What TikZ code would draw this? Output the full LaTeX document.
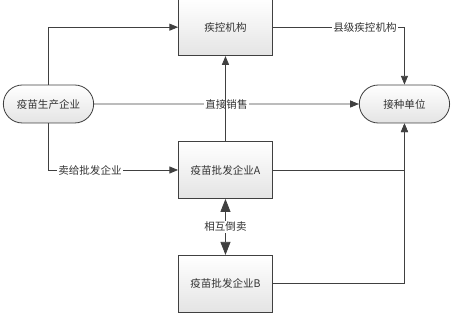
\documentclass[tikz,border=0pt]{standalone}
\usepackage{fontspec}
\setmainfont{Noto Sans CJK SC}
\usetikzlibrary{positioning,arrows.meta,shapes.misc}
\definecolor{ink}{HTML}{333333}
\definecolor{frame}{HTML}{404040}
\definecolor{shadetop}{HTML}{FFFFFF}
\definecolor{shadebot}{HTML}{E4E4E4}

\begin{document}
\begin{tikzpicture}[
  font=\fontsize{9}{11}\selectfont,
  box/.style={draw=frame, line width=0.7pt, top color=shadetop, bottom color=shadebot, text=ink, align=center, minimum width=28.2mm, minimum height=17.1mm, inner sep=2pt},
  pill/.style={box, rounded rectangle, minimum width=28.5mm, minimum height=11.4mm},
  lbl/.style={fill=white, text=ink, inner sep=1pt},
  arr/.style={-{Triangle[length=2.6mm, width=2.1mm]}, line width=0.7pt, draw=frame},
  darr/.style={{Triangle[length=3.9mm, width=3mm]}-{Triangle[length=3.9mm, width=3mm]}, line width=0.7pt, draw=frame},
]
\useasboundingbox (0,0) rectangle (13.71,-9.45);
\node[pill] (mfr) at (1.455,-3.12) {疫苗生产企业};
\node[box, right=25.2mm of mfr, yshift=-19.8mm] (wsa) {疫苗批发企业A};
\node[box, above=25.5mm of wsa] (cdc) {疾控机构};
\node[box, below=16.8mm of wsa] (wsb) {疫苗批发企业B};
\node[pill, right=25.8mm of wsa, yshift=19.8mm] (site) {接种单位};
\draw[arr] (mfr.north) |- (cdc.west);
\draw[arr] (mfr.south) |- node[lbl, pos=0.66] {卖给批发企业} (wsa.west);
\draw[arr] (mfr) -- node[lbl] {直接销售} (site);
\draw[arr] (cdc.east) -| node[lbl, pos=0.35] {县级疾控机构} (site.north);
\draw[arr] (wsa) -- (cdc);
\draw[darr] (wsa) -- node[lbl] {相互倒卖} (wsb);
\draw[arr] (wsa.east) -| (site.south);
\draw[arr] (wsb.east) -| (site.south);
\end{tikzpicture}
\end{document}
